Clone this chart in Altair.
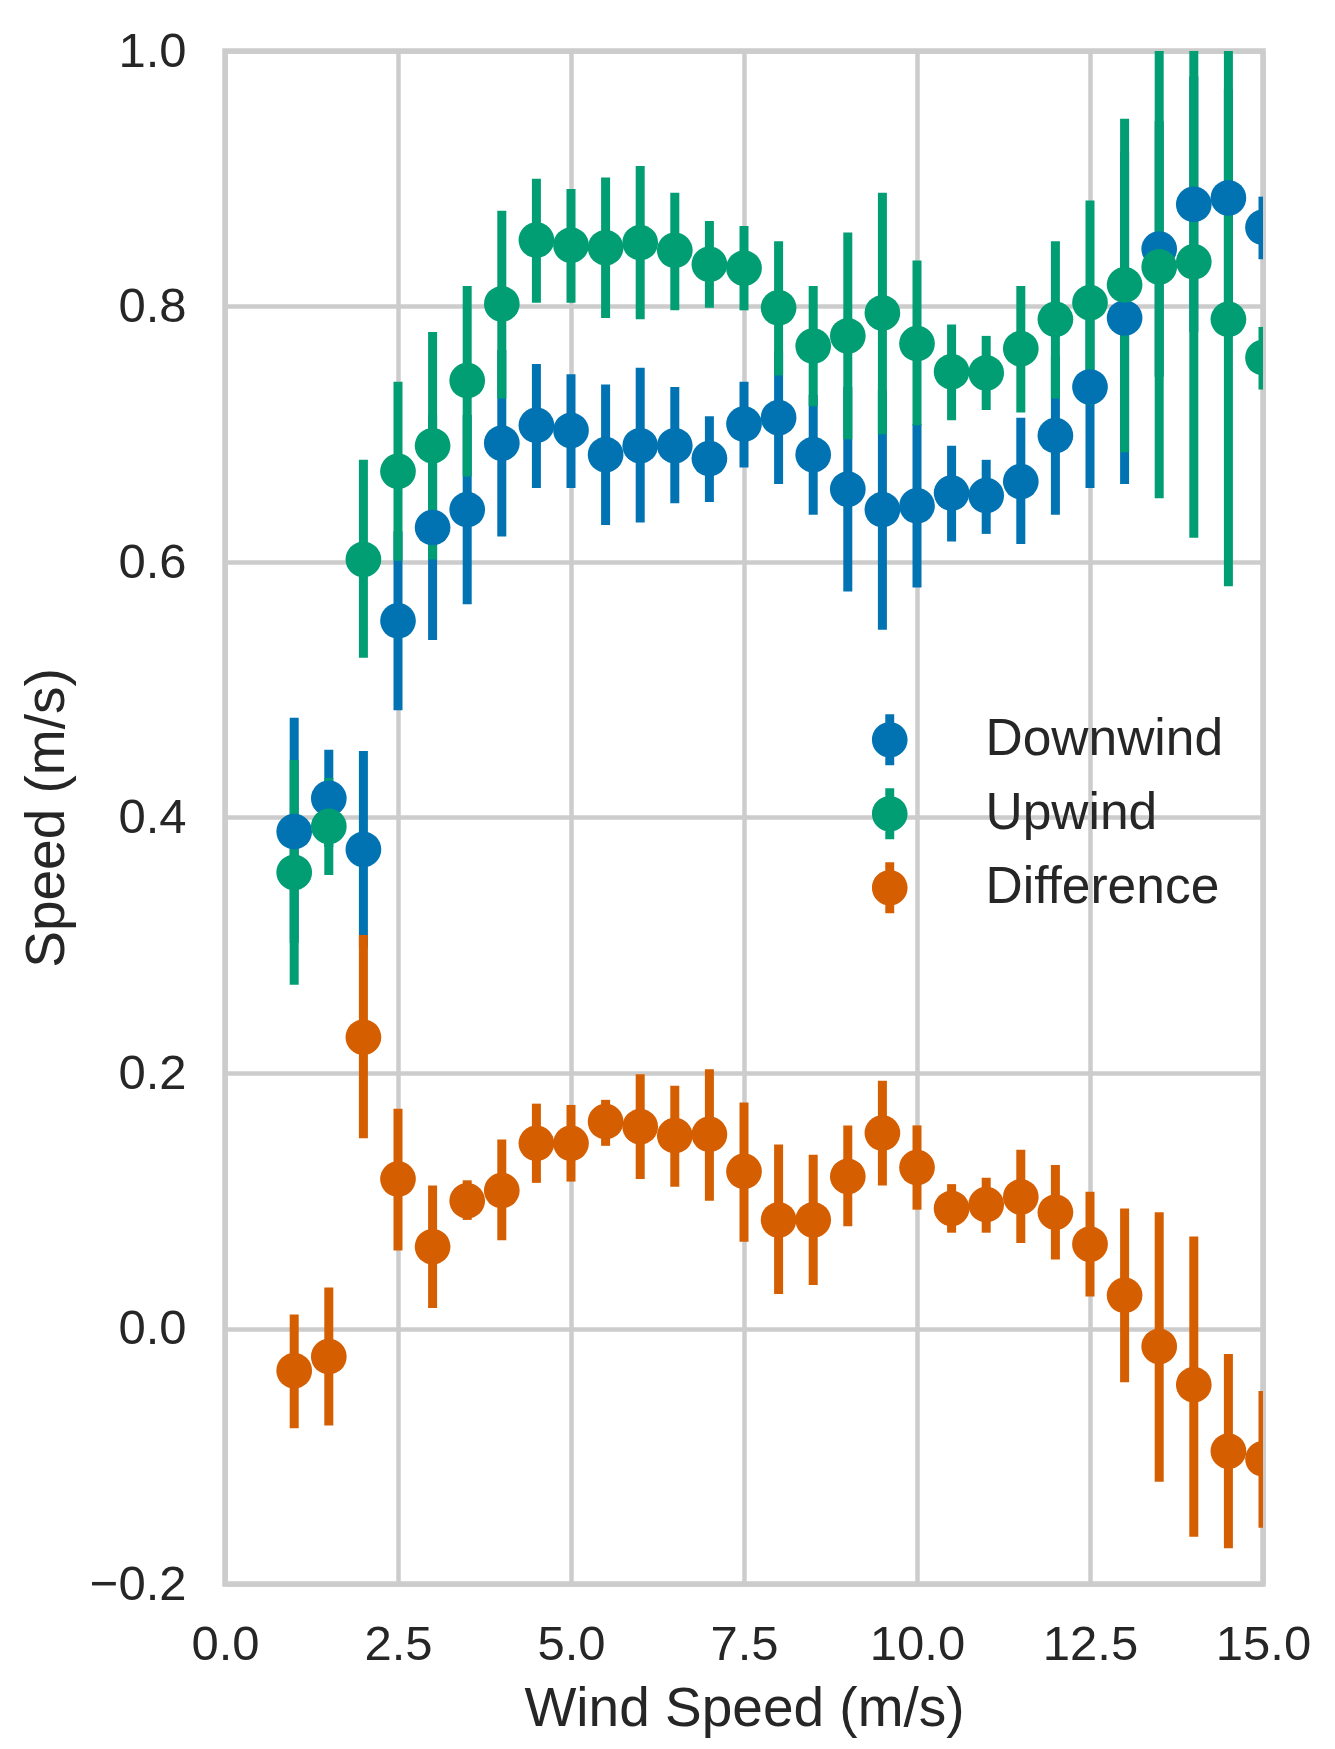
import altair as alt
import pandas as pd

# ---- data ----
wind = [1.0, 1.5, 2.0, 2.5, 3.0, 3.5, 4.0, 4.5, 5.0, 5.5, 6.0, 6.5, 7.0, 7.5,
        8.0, 8.5, 9.0, 9.5, 10.0, 10.5, 11.0, 11.5, 12.0, 12.5, 13.0, 13.5,
        14.0, 14.5, 15.0]

down_mean = [0.389, 0.415, 0.375, 0.554, 0.627, 0.641, 0.693, 0.707, 0.703,
             0.684, 0.691, 0.691, 0.681, 0.708, 0.713, 0.684, 0.657, 0.641,
             0.644, 0.654, 0.652, 0.663, 0.699, 0.737, 0.791, 0.845, 0.880,
             0.885, 0.862]
down_lo = [0.302, 0.377, 0.298, 0.484, 0.539, 0.567, 0.620, 0.658, 0.658,
           0.629, 0.631, 0.646, 0.647, 0.674, 0.661, 0.637, 0.577, 0.547,
           0.580, 0.616, 0.622, 0.614, 0.637, 0.658, 0.661, 0.745, 0.780,
           0.800, 0.837]
down_hi = [0.478, 0.453, 0.452, 0.624, 0.715, 0.715, 0.766, 0.755, 0.747,
           0.739, 0.752, 0.737, 0.714, 0.741, 0.765, 0.731, 0.737, 0.735,
           0.708, 0.691, 0.680, 0.713, 0.761, 0.816, 0.921, 0.945, 0.980,
           0.970, 0.886]

up_mean = [0.357, 0.393, 0.602, 0.671, 0.691, 0.742, 0.802, 0.852, 0.848,
           0.846, 0.850, 0.844, 0.833, 0.830, 0.799, 0.769, 0.777, 0.795,
           0.771, 0.749, 0.748, 0.767, 0.790, 0.803, 0.817, 0.831, 0.835,
           0.790, 0.760]
up_lo = [0.269, 0.355, 0.525, 0.601, 0.602, 0.667, 0.728, 0.803, 0.803,
         0.791, 0.790, 0.797, 0.799, 0.797, 0.746, 0.722, 0.696, 0.700,
         0.707, 0.711, 0.719, 0.717, 0.728, 0.723, 0.686, 0.650, 0.619,
         0.581, 0.735]
up_hi = [0.445, 0.431, 0.680, 0.741, 0.780, 0.816, 0.875, 0.900, 0.892,
         0.901, 0.910, 0.889, 0.867, 0.863, 0.851, 0.816, 0.858, 0.889,
         0.836, 0.786, 0.777, 0.816, 0.851, 0.883, 0.947, 1.012, 1.051,
         1.000, 0.784]

diff_mean = [-0.033, -0.022, 0.228, 0.117, 0.064, 0.100, 0.108, 0.145, 0.145,
             0.162, 0.158, 0.151, 0.152, 0.123, 0.085, 0.085, 0.119, 0.153,
             0.126, 0.094, 0.097, 0.103, 0.091, 0.066, 0.026, -0.014, -0.044,
             -0.096, -0.102]
diff_lo = [-0.078, -0.076, 0.149, 0.061, 0.016, 0.085, 0.069, 0.114, 0.115,
           0.143, 0.117, 0.111, 0.100, 0.068, 0.027, 0.034, 0.080, 0.112,
           0.093, 0.075, 0.075, 0.067, 0.054, 0.025, -0.042, -0.120, -0.163,
           -0.172, -0.156]
diff_hi = [0.011, 0.032, 0.308, 0.172, 0.112, 0.116, 0.148, 0.176, 0.175,
           0.179, 0.199, 0.190, 0.203, 0.177, 0.144, 0.136, 0.159, 0.194,
           0.159, 0.113, 0.118, 0.140, 0.128, 0.107, 0.094, 0.091, 0.072,
           -0.020, -0.049]

series_names = ["Downwind", "Upwind", "Difference"]
series_colors = ["#0173b2", "#029e73", "#d55e00"]
x_ticks = [0.0, 2.5, 5.0, 7.5, 10.0, 12.5, 15.0]
y_ticks = [-0.2, 0.0, 0.2, 0.4, 0.6, 0.8, 1.0]

rows = []
for name, m, lo, hi in [("Downwind", down_mean, down_lo, down_hi),
                        ("Upwind", up_mean, up_lo, up_hi),
                        ("Difference", diff_mean, diff_lo, diff_hi)]:
    for xv, mv, l, h in zip(wind, m, lo, hi):
        rows.append({"x": xv, "series": name, "mean": mv, "lo": l, "hi": h})
df = pd.DataFrame(rows)

FONT = "Liberation Sans"
TXT = "#262626"

xscale = alt.Scale(domain=[0, 15], nice=False, zero=False)
yscale = alt.Scale(domain=[-0.2, 1.0], nice=False, zero=False)
cscale = alt.Scale(domain=series_names, range=series_colors)

xaxis = alt.Axis(values=x_ticks, format=".1f", title="Wind Speed (m/s)",
                 labelFlush=False, labelOverlap=False, labelPadding=36,
                 titlePadding=13)
yaxis = alt.Axis(values=y_ticks, format=".1f", title="Speed (m/s)",
                 labelFlush=False, labelOverlap=False, labelPadding=39,
                 titlePadding=14)

legend_path = ("M1,0 A1,1 0 1,1 -1,0 A1,1 0 1,1 1,0 Z "
               "M-0.25,-1.43 L0.25,-1.43 L0.25,1.43 L-0.25,1.43 Z")

base = alt.Chart(df)

bars = base.mark_rule(strokeWidth=9, clip=True).encode(
    x=alt.X("x:Q", scale=xscale, axis=xaxis),
    y=alt.Y("lo:Q", scale=yscale, axis=yaxis),
    y2="hi:Q",
    color=alt.Color("series:N", scale=cscale, legend=None),
)

dots = base.mark_circle(size=1275, opacity=1, clip=True).encode(
    x=alt.X("x:Q", scale=xscale, axis=xaxis),
    y=alt.Y("mean:Q", scale=yscale, axis=yaxis),
    color=alt.Color(
        "series:N", scale=cscale,
        legend=alt.Legend(
            title=None, orient="none", legendX=639, legendY=663,
            symbolType=legend_path, symbolSize=1275, symbolStrokeWidth=0,
            symbolOpacity=1, labelFont=FONT, labelFontSize=51.5,
            labelColor=TXT, labelOffset=70, rowPadding=21, padding=0,
            labelLimit=0,
        ),
    ),
)

chart = (
    alt.layer(bars, dots)
    .resolve_legend(color="independent")
    .properties(
        width=1038, height=1533,
        padding={"left": 217, "top": 43, "right": 60, "bottom": 161},
        autosize=alt.AutoSizeParams(type="none"),
        background="white",
    )
    .configure_view(stroke="#cccccc", strokeWidth=5.5)
    .configure_axis(
        grid=True, gridColor="#cccccc", gridWidth=4.5, domain=False,
        ticks=False, tickSize=0,
        labelFont=FONT, labelFontSize=49, labelColor=TXT,
        titleFont=FONT, titleFontSize=55, titleFontWeight="normal",
        titleColor=TXT,
    )
)

chart.save("out.html", embed_options={"renderer": "svg", "actions": False})
